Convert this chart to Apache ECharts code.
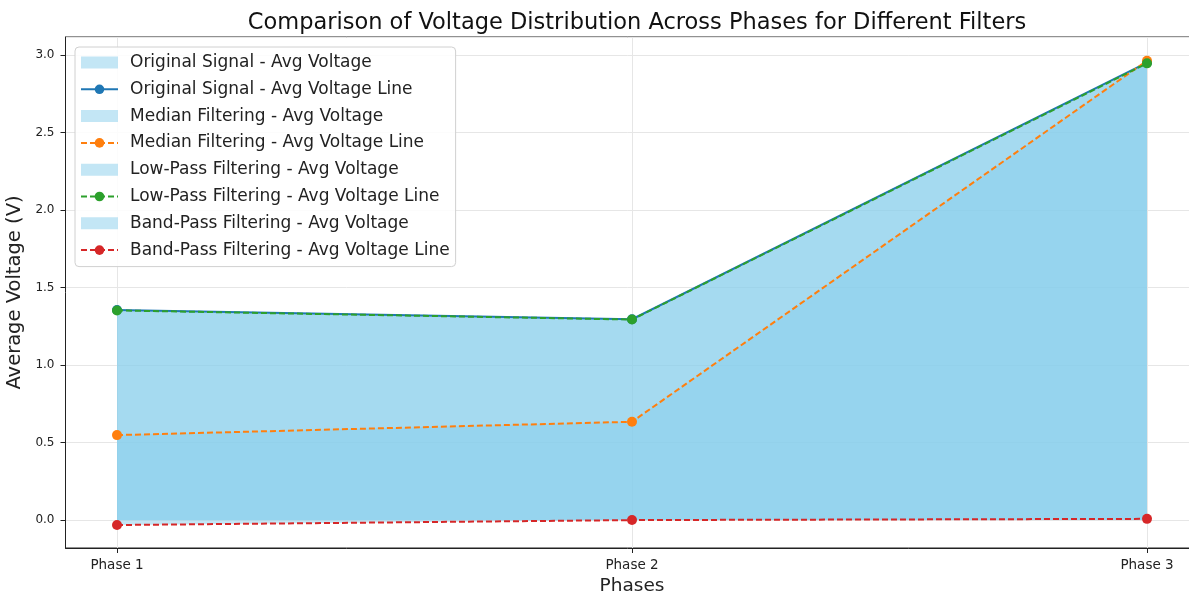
<!DOCTYPE html>
<html>
<head>
<meta charset="utf-8">
<script src="https://cdn.jsdelivr.net/npm/echarts@6/dist/echarts.min.js"></script>
<style>
  html, body { margin: 0; padding: 0; background: #fff; }
  #chart { width: 1189px; height: 595px; }
</style>
</head>
<body>
<div id="chart"></div>
<script>
// Phases on the x axis
const phases = ['Phase 1', 'Phase 2', 'Phase 3'];

// Average voltage per phase for each filter
const originalSignal = [1.355, 1.295, 2.950];
const medianFiltering = [0.548, 0.634, 2.962];
const lowPassFiltering = [1.352, 1.293, 2.945];
const bandPassFiltering = [-0.032, 0.000, 0.008];

const filters = [
  { name: 'Original Signal', values: originalSignal, color: '#1f77b4', dashed: false },
  { name: 'Median Filtering', values: medianFiltering, color: '#ff7f0e', dashed: true },
  { name: 'Low-Pass Filtering', values: lowPassFiltering, color: '#2ca02c', dashed: true },
  { name: 'Band-Pass Filtering', values: bandPassFiltering, color: '#d62728', dashed: true }
];

const fillColor = 'rgba(135,206,235,0.5)';
const font = 'DejaVu Sans';

const series = [];
const legendData = [];
filters.forEach((f, i) => {
  const pts = f.values.map((v, k) => [k, v]);
  const areaName = f.name + ' - Avg Voltage';
  const lineName = f.name + ' - Avg Voltage Line';
  // shaded area between zero and the series (all fills sit beneath all lines)
  series.push({
    name: areaName,
    type: 'line',
    data: pts,
    symbol: 'none',
    color: fillColor,
    lineStyle: { width: 0 },
    areaStyle: { color: fillColor, opacity: 1 },
    z: 1,
    silent: true
  });
  // line with circle markers
  series.push({
    name: lineName,
    type: 'line',
    data: pts,
    symbol: 'circle',
    symbolSize: 10,
    color: f.color,
    itemStyle: { color: f.color },
    lineStyle: { color: f.color, width: 2, type: f.dashed ? [6, 3] : 'solid' },
    z: 3 + i
  });
  legendData.push({ name: areaName, icon: 'rect', itemStyle: { color: fillColor } });
  legendData.push({ name: lineName });
});

const chart = echarts.init(document.getElementById('chart'), null, { renderer: 'canvas' });
chart.setOption({
  animation: false,
  backgroundColor: '#fff',
  textStyle: { fontFamily: font },
  title: {
    text: 'Comparison of Voltage Distribution Across Phases for Different Filters',
    left: 632,
    top: 7,
    textAlign: 'center',
    textStyle: { fontFamily: font, fontSize: 22.5, fontWeight: 'normal', color: '#111' }
  },
  grid: {
    left: 65.5,
    width: 1133,
    top: 37,
    bottom: 47,
    outerBoundsMode: 'none',
    containLabel: false,
    show: true,
    borderColor: '#222',
    borderWidth: 1,
    backgroundColor: 'transparent'
  },
  legend: {
    orient: 'vertical',
    left: 75,
    top: 47,
    data: legendData,
    itemWidth: 37,
    itemHeight: 12,
    itemGap: 9.8,
    padding: [7, 6, 8, 5],
    backgroundColor: 'rgba(255,255,255,0.85)',
    borderColor: '#d0d0d0',
    borderWidth: 1,
    borderRadius: 4,
    textStyle: { fontFamily: font, fontSize: 17, color: '#222', padding: [0, 0, 0, 7] }
  },
  xAxis: {
    type: 'value',
    min: -0.1,
    max: 2.1,
    minInterval: 1,
    maxInterval: 1,
    name: 'Phases',
    nameLocation: 'middle',
    nameGap: 29,
    nameTextStyle: { fontFamily: font, fontSize: 18.5, color: '#222' },
    axisLine: { show: true, onZero: false, lineStyle: { color: '#222', width: 1 } },
    axisTick: { show: true, length: 5, lineStyle: { color: '#222' } },
    axisLabel: {
      showMinLabel: false,
      showMaxLabel: false,
      fontFamily: font,
      fontSize: 13.5,
      color: '#222',
      margin: 10,
      formatter: v => phases[Math.round(v)] || ''
    },
    splitLine: { show: true, lineStyle: { color: '#e6e6e6', width: 1 } }
  },
  yAxis: {
    type: 'value',
    min: -0.18,
    max: 3.115,
    minInterval: 0.5,
    maxInterval: 0.5,
    name: 'Average Voltage (V)',
    nameLocation: 'middle',
    nameGap: 39,
    nameTextStyle: { fontFamily: font, fontSize: 19.5, color: '#222' },
    axisLine: { show: true, onZero: false, lineStyle: { color: '#222', width: 1 } },
    axisTick: { show: true, length: 5, lineStyle: { color: '#222' } },
    axisLabel: {
      showMinLabel: false,
      showMaxLabel: false,
      fontFamily: font,
      fontSize: 12,
      color: '#222',
      margin: 11,
      formatter: v => v.toFixed(1)
    },
    splitLine: { show: true, lineStyle: { color: '#e6e6e6', width: 1 } }
  },
  series: series
});
</script>
</body>
</html>
